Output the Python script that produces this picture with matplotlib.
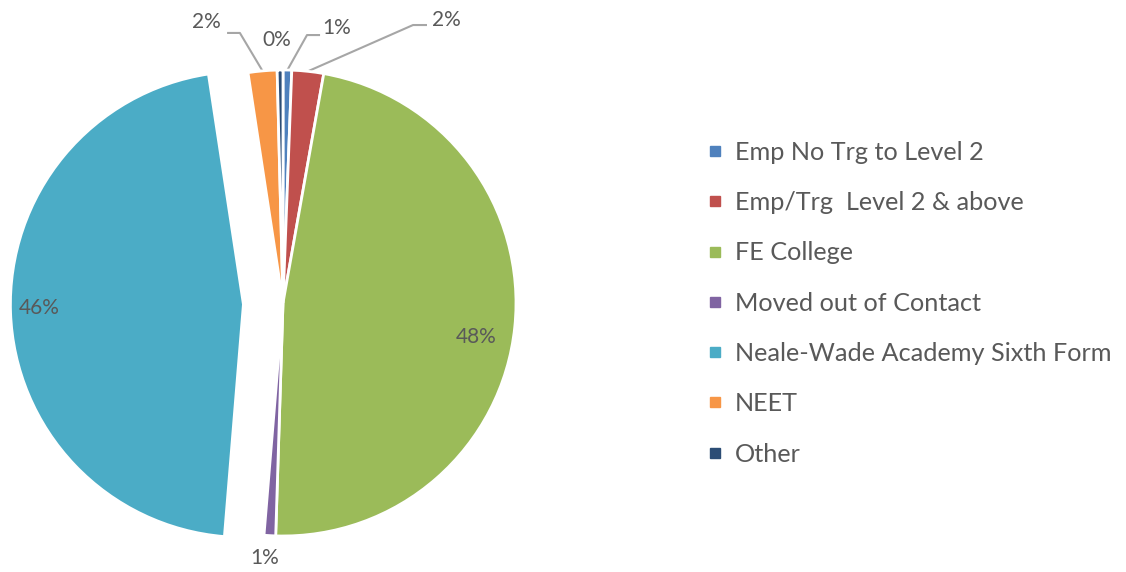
import matplotlib.pyplot as plt
from matplotlib.lines import Line2D
import numpy as np

plt.rcParams['font.family'] = ['Lato', 'DejaVu Sans']

# Destinations of leavers (share of cohort, %)
categories = ["Emp No Trg to Level 2", "Emp/Trg  Level 2 & above", "FE College",
              "Moved out of Contact", "Neale-Wade Academy Sixth Form", "NEET", "Other"]
shares = [0.6, 2.2, 47.7, 0.8, 46.3, 2.0, 0.4]
colors = ["#4F81BD", "#C0504D", "#9BBB59", "#8064A2", "#4BACC6", "#F79646", "#2C4D75"]
explode = [0, 0, 0, 0, 0.17, 0, 0]

# label placement (data coords, pie radius = 1) and leader-line elbows
label_pos = [(0.23, 1.18), (0.70, 1.215), (0.83, -0.146), (-0.077, -1.094),
             (-1.047, -0.021), (-0.33, 1.206), (-0.026, 1.129)]
leader = [((0.103, 1.150), (0.159, 1.150)), ((0.558, 1.193), (0.618, 1.193)), None, None,
          None, ((-0.185, 1.159), (-0.24, 1.159)), None]

text_col = "#595959"
W, H = 1126, 572
cx, cy, r = 283, 303, 233

fig = plt.figure(figsize=(W / 100, H / 100), dpi=100)
ax = fig.add_axes([0, 0, 1, 1])

wedges, _ = ax.pie(shares, colors=colors, explode=explode, startangle=90,
                   counterclock=False, radius=1,
                   wedgeprops=dict(edgecolor="white", linewidth=2))
ax.set_xlim(-cx / r, (W - cx) / r)
ax.set_ylim((cy - H) / r, cy / r)
ax.axis("off")

total = sum(shares)
cum = np.cumsum([0] + shares)
for i, v in enumerate(shares):
    txt = f"{round(v / total * 100)}%"
    x, y = label_pos[i]
    ax.text(x, y, txt, ha="center", va="center", fontsize=15, color=text_col)
    if leader[i] is not None:
        mid = (cum[i] + v / 2) / total * 2 * np.pi
        sx, sy = np.sin(mid), np.cos(mid)
        (ex, ey), (tx, ty) = leader[i]
        ax.plot([sx, ex, tx], [sy, ey, ty], color="#A6A6A6", lw=1.5,
                solid_capstyle="butt", zorder=0)

handles = [Line2D([], [], marker="s", linestyle="none", markersize=7,
                  markerfacecolor=c, markeredgecolor=c) for c in colors]
fig.legend(handles, categories, loc="center left", bbox_to_anchor=(697 / W, 0.47),
           frameon=False, fontsize=18.2, labelcolor=text_col, handlelength=0.6,
           handletextpad=0.5, labelspacing=1.08, borderaxespad=0)

fig.savefig("out.png", dpi=100)
